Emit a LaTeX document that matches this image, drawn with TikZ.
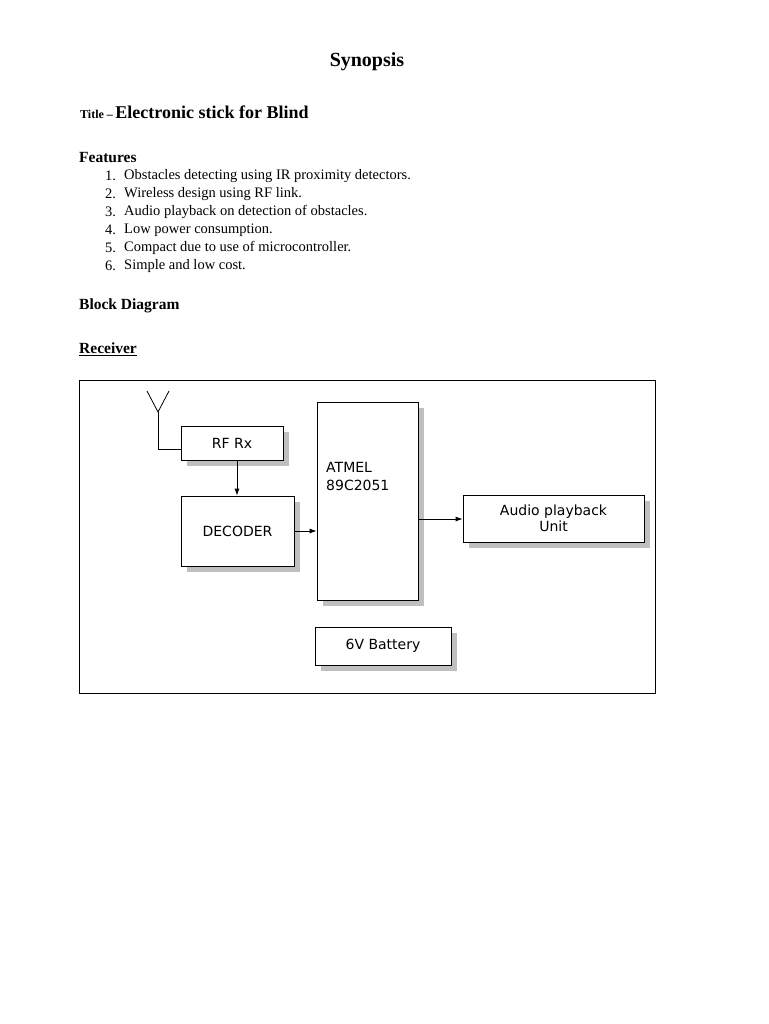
\documentclass[tikz,border=0pt]{standalone}
\usepackage{fontspec}
\setmainfont{Liberation Serif}
\newfontfamily\boxfont{DejaVu Sans}
\usetikzlibrary{arrows.meta}
\tikzset{
  blk/.style={draw, fill=white, line width=0.8pt, inner sep=0pt, font=\boxfont\fontsize{14}{16}\selectfont},
  shadow/.style={fill=black!25},
  txt/.style={anchor=west, inner sep=0pt, font=\fontsize{14.5}{17}\selectfont},
  link/.style={line width=0.8pt, -{Latex[length=7pt,width=5pt]}}
}
\begin{document}
\begin{tikzpicture}[x=1pt, y=-1pt]
    \useasboundingbox (0,0) rectangle (768,1024);

    % Heading
    \node[font=\bfseries\fontsize{20}{22}\selectfont] (head) at (367,62) {Synopsis};
    \node[txt, font=\bfseries\fontsize{12}{14}\selectfont] (ttl) at (80,114) {Title –};
    \node[anchor=base west, inner sep=0pt, font=\bfseries\fontsize{18}{20}\selectfont] (name) at ([xshift=2pt]ttl.base east) {Electronic stick for Blind};

    % Features
    \node[txt, font=\bfseries\fontsize{15.5}{18}\selectfont] (feat) at (79,158) {Features};
    \foreach \n/\t in {1/Obstacles detecting using IR proximity detectors.,
                       2/Wireless design using RF link.,
                       3/Audio playback on detection of obstacles.,
                       4/Low power consumption.,
                       5/Compact due to use of microcontroller.,
                       6/Simple and low cost.} {
        \node[txt] at (105,158+18*\n) {\n.};
        \node[txt] at (124,158+18*\n) {\t};
    }

    \node[txt, font=\bfseries\fontsize{15.5}{18}\selectfont] (blkd) at (79,306) {Block Diagram};
    \node[txt, font=\bfseries\fontsize{15.5}{18}\selectfont] (recv) at (79,349) {\underline{Receiver}};

    % Frame
    \draw[line width=0.8pt] (79,380) rectangle (655,693);

    % Shadows
    \fill[shadow] (187,432) rectangle (289,466);
    \fill[shadow] (187,502) rectangle (300,572);
    \fill[shadow] (323,408) rectangle (424,606);
    \fill[shadow] (469,501) rectangle (650,548);
    \fill[shadow] (321,633) rectangle (457,671);

    % Blocks
    \node[blk, minimum width=102pt, minimum height=34pt] (rfrx) at (232,443) {RF Rx};
    \node[blk, minimum width=113pt, minimum height=70pt] (dec) at (237.5,531) {DECODER};
    \node[blk, minimum width=101pt, minimum height=198pt] (mcu) at (367.5,501) {};
    \node[anchor=north west, inner sep=0pt, align=left, font=\boxfont\fontsize{14}{18}\selectfont] (mcut) at (326,462) {ATMEL\\89C2051};
    \node[blk, minimum width=181pt, minimum height=47pt, align=center, font=\boxfont\fontsize{14}{16}\selectfont] (aud) at (553.5,518.5) {Audio playback\\Unit};
    \node[blk, minimum width=136pt, minimum height=38pt] (bat) at (383,646) {6V Battery};

    % Antenna
    \coordinate (ant) at (158,412);
    \draw[line width=0.8pt] (147,391) -- (ant) -- (169,391);
    \draw[line width=0.8pt] (ant) -- (158,449) -- (rfrx.west |- 0,449);

    % Connectors
    \draw[link] (rfrx.south -| 237,0) -- (dec.north -| 237,0);
    \draw[link] (dec.east) -- (mcu.west |- dec.east);
    \draw[link] (mcu.east |- 0,519) -- (aud.west |- 0,519);
\end{tikzpicture}
\end{document}
